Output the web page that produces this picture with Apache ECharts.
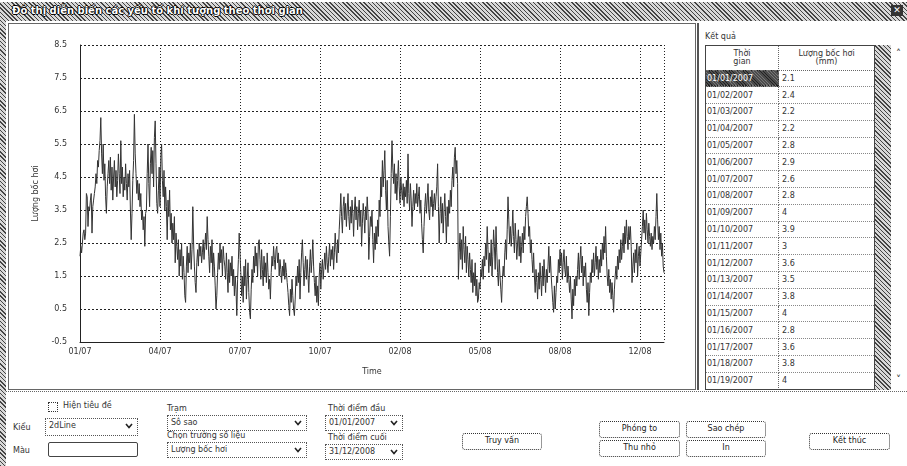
<!DOCTYPE html>
<html>
<head>
<meta charset="utf-8">
<script src="https://cdn.jsdelivr.net/npm/echarts@6/dist/echarts.min.js"></script>
<style>
  html, body { margin:0; padding:0; }
  body { width:907px; height:466px; overflow:hidden; background:#fff; position:relative;
         font-family:"DejaVu Sans", "Noto Sans", sans-serif; color:#333; }
  .abs { position:absolute; }
  .hatch { background: repeating-linear-gradient(45deg, #444 0 1px, #d8d8d8 1px 3px); }
  .lbl { position:absolute; font-size:8px; white-space:nowrap; color:#333; }
  .box { position:absolute; border:1px dotted #555; box-sizing:border-box; font-size:8px; padding:2px 3px; white-space:nowrap; }
  .btn { position:absolute; border:1px dotted #333; border-radius:3px; box-sizing:border-box; font-size:8px;
         text-align:center; line-height:14px; color:#222; }
  .chev { position:absolute; right:4px; top:4px; width:8px; height:6px; }
  #chart { position:absolute; left:0; top:0; width:907px; height:466px; z-index:2; }
  table { border-collapse:collapse; font-size:8px; }
</style>
</head>
<body>
<div class="abs hatch" style="left:0;top:2px;width:907px;height:19px;"></div>
<div class="abs" style="left:12px;top:5px;font-size:10px;font-weight:bold;color:#fff;text-shadow:1px 0 #000,-1px 0 #000,0 1px #000,0 -1px #000;white-space:nowrap;">Đồ thị diễn biến các yếu tố khí tượng theo thời gian</div>
<div class="abs" style="left:891px;top:5px;width:12px;height:11px;background:#333;color:#fff;font-size:9px;text-align:center;line-height:11px;">✕</div>
<div class="abs hatch" style="left:0;top:21px;width:6px;height:445px;"></div>
<div class="abs" style="left:8px;top:23px;width:688px;height:367px;border:1px solid #666;box-sizing:border-box;"></div>
<div class="abs" style="left:697px;top:23px;width:210px;height:367px;border-left:2px solid #555;box-sizing:border-box;"></div>
<div class="abs" style="left:6px;top:391px;width:901px;height:1px;border-top:1px dotted #666;"></div>

<div class="lbl" style="left:705px;top:32px;">Kết quả</div>
<div id="tbl" class="abs" style="left:705px;top:45px;width:170px;height:345px;border:1px solid #444;box-sizing:border-box;overflow:hidden;"></div>
<div class="abs hatch" style="left:875px;top:45px;width:16px;height:345px;"></div>
<div class="lbl" style="left:896px;top:48px;font-size:10px;">˄</div>
<div class="lbl" style="left:896px;top:374px;font-size:10px;">˅</div>

<div id="controls"></div>
<div id="chart"></div>

<script>
// ---- Daily evaporation (mm) ----
const evap_q1_2007 = [2.1,2.4,2.2,2.2,2.8,2.9,2.6,2.8,4,3.9,3,3.6,3.5,3.8,4,2.8,3.6,3.8,4,
  4.2,4.6,4.3,5.0,4.8,5.3,5.6,6.3,
  5.2,4.6,5.5,4.4,4.9,3.9,3.4,4.2,
  4.6,5.0,4.3,5.1,4.1,4.8,3.8,4.5,5.0,4.2,4.7,3.9,4.4,5.2,4.6,4.0,5.6,4.3,
  4.8,3.9,4.5,4.1,4.9,4.3,3.8,4.6,4.2,4.7,3.5,2.6,
  3.4,4.4,5.0,6.4,5.2,4.6,4.0,4.4,
  3.8,4.3,3.6,4.0,3.2,3.5,2.9,3.3,2.4,
  3.4,3.5,4.6,5.5,4.3,3.6,4.9,5.4];
const evap_q2_2007 = [4.6,5.3,4.2,5.7,6.2,4.9,3.7,3.4,
  4.1,4.8,3.6,5.1,5.5,4.4,3.9,4.7,
  3.5,4.2,3.6,2.6,3.8,3.3,4.1,2.9,
  3.4,2.5,3.1,2.6,3.3,1.9,2.8,2.4,
  2.0,2.6,1.5,2.3,1.8,2.5,1.4,2.1,1.6,0.9,0.7,1.8,
  2.4,1.6,2.2,1.9,2.5,1.7,2.3,3.6,
  2.5,1.8,1.3,1.0,1.9,
  2.3,1.8,2.5,2.1,2.4,1.9,2.2,2.6,2.0,2.4,2.8,2.3,
  3.3,2.6,2.1,1.6,2.4,1.9,2.6,1.5,2.2,1.8,1.2,
  0.5,0.9,1.6,2.2,1.7,2.5,1.9,2.3,1.5,2.4,2.0];
const evap_q3_2007 = [1.8,1.4,2.2,1.6,1.0,2.0,1.3,1.9,1.5,2.1,1.2,1.7,0.9,1.5,1.1,0.3,1.4,
  2.0,2.8,2.2,1.6,0.9,
  1.5,0.7,1.8,1.2,2.0,0.8,1.4,1.9,1.0,0.4,0.2,
  1.1,1.7,1.3,2.1,1.6,2.4,1.8,2.2,1.5,2.5,2.6,
  2.0,1.4,2.3,1.7,1.2,2.1,1.5,1.9,1.3,2.2,1.6,1.1,1.4,0.8,
  1.6,2.1,1.8,2.4,2.0,1.7,2.3,2.4,1.9,2.2,1.5,2.0,1.7,
  1.3,1.8,1.5,2.0,1.4,1.9,1.6,1.3,1.0,
  0.6,0.3,1.1,0.7,1.4,0.9,0.5,0.3,0.8,1.5,1.2,1.8];
const evap_q4_2007 = [1.3,2.0,0.8,1.6,2.2,2.6,1.9,1.2,1.7,2.1,1.4,
  2.0,1.5,1.0,1.8,2.3,1.6,2.0,2.6,1.8,1.3,0.9,1.5,0.7,
  1.2,0.6,1.5,1.9,1.1,1.7,2.0,1.4,1.8,
  2.2,1.7,2.4,1.9,1.6,2.1,2.5,1.8,2.3,2.0,2.4,1.7,2.2,2.8,2.3,1.9,2.6,2.2,
  2.9,3.4,4.0,3.3,2.8,3.6,3.9,
  3.2,3.7,3.0,3.5,4.0,3.3,2.9,3.6,3.1,3.8,3.4,2.7,3.5,3.9,3.2,3.6,2.9,3.4,3.8,3.0,
  3.5,2.4,3.1,3.7,3.3,2.8,3.6,3.2,3.9,3.4,2.0,2.7,3.3,3.0];
const evap_q1_2008 = [3.5,2.6,1.9,2.8,2.3,3.0,2.5,
  3.2,2.7,3.8,3.3,4.5,3.9,5.0,4.2,4.7,5.3,
  4.1,3.5,4.4,3.0,2.5,2.1,
  3.3,4.6,5.6,4.8,4.3,
  4.9,4.0,4.6,3.8,4.4,5.0,4.2,3.7,4.5,4.1,3.8,4.3,
  3.6,4.2,3.9,4.4,3.7,5.2,4.0,3.5,4.3,3.8,3.0,3.6,4.1,3.5,
  4.0,3.7,4.3,3.6,3.9,4.2,3.4,3.8,3.1,2.6,2.2,
  3.0,3.6,4.0,3.4,3.8,4.3,3.5,3.2,3.9,3.6,4.1,3.3,3.7,4.0,3.5,3.9,4.2,4.9,
  3.6,2.5,3.4,3.9,3.1,3.7,2.8,3.5];
const evap_q2_2008 = [4.0,3.3,2.5,3.6,3.0,3.8,3.4,
  4.1,3.6,4.4,4.8,4.2,5.1,5.4,4.6,5.0,4.3,
  1.4,2.2,2.8,2.0,2.6,1.7,3.0,2.3,1.9,2.7,1.6,2.4,2.0,1.5,2.2,
  1.7,1.3,2.0,1.0,1.6,1.2,1.9,0.9,1.4,0.7,0.8,1.3,1.1,1.7,1.5,2.0,
  1.4,2.1,1.8,2.5,2.0,3.0,2.3,1.6,2.2,1.8,2.6,1.5,2.1,2.9,2.4,1.7,3.0,2.2,
  1.6,1.2,2.0,1.5,1.1,0.7,1.4,
  1.8,1.5,2.2,2.6,2.0,2.9,3.9,3.2,2.5,3.0,2.4,2.8,3.5,2.7,2.2,3.1,2.6,2.0];
const evap_q3_2008 = [2.5,2.9,2.1,2.7,1.9,2.4,2.8,2.2,3.0,2.6,3.3,3.6,
  3.9,3.4,2.7,3.0,2.2,2.6,2.0,1.6,2.2,
  1.5,1.0,1.7,1.3,0.8,1.6,1.1,1.9,1.4,0.9,1.8,1.2,2.0,1.5,1.0,1.7,1.3,
  1.8,2.4,1.6,2.1,1.5,1.1,
  0.7,0.4,1.2,0.5,1.0,1.5,1.3,
  2.0,1.6,2.3,1.8,2.2,1.4,1.9,2.3,1.7,1.5,2.1,1.3,1.8,1.4,1.0,1.5,
  0.8,0.2,1.1,0.6,1.4,0.9,1.5,1.2,
  1.7,2.2,1.4,2.0,2.4,1.6,2.1,1.2,1.8,1.5,1.9,1.1,0.7,1.3,
  0.3,1.0,1.6];
const evap_q4_2008 = [1.3,2.0,1.6,2.2,1.5,1.9,2.4,1.7,2.1,1.4,2.0,1.6,2.3,1.8,2.5,2.0,2.7,2.2,3.0,
  2.1,1.5,1.2,1.7,1.0,1.4,0.8,1.3,0.9,0.4,1.1,1.5,
  1.8,1.4,2.1,1.7,2.3,1.9,2.6,2.0,2.4,2.8,2.2,3.0,2.5,3.2,2.7,2.3,3.0,
  2.6,3.0,2.4,1.3,1.8,2.2,
  1.6,2.3,1.9,2.5,1.5,2.1,2.4,1.8,2.2,2.6,
  3.0,3.5,2.8,3.2,2.6,3.4,2.9,2.5,3.1,2.7,
  2.4,2.8,2.3,2.7,2.5,3.0,2.6,3.3,4.0,
  3.2,2.6,3.0,2.3,2.8,2.1,2.5,1.8,1.6];

// ---- Axes / categories ----
const startDateUTC = Date.UTC(2007, 0, 1);
const xLabelDays = [0, 100, 200, 300, 400, 500, 600, 700];
const xGridDays = [0, 100, 200, 300, 400, 500, 600, 700, 730];
const yTickValues = [-0.5, 0.5, 1.5, 2.5, 3.5, 4.5, 5.5, 6.5, 7.5, 8.5];
const yAxisTitle = 'Lượng bốc hơi';
const xAxisTitle = 'Time';
const tableHeaders = ['Thời\ngian', 'Lượng bốc hơi\n(mm)'];
const tableRowCount = 19;

const evaporation = [].concat(evap_q1_2007, evap_q2_2007, evap_q3_2007, evap_q4_2007,
                              evap_q1_2008, evap_q2_2008, evap_q3_2008, evap_q4_2008);
function dayToDate(d) { return new Date(startDateUTC + d * 86400000); }
function pad(n) { return (n < 10 ? '0' : '') + n; }
function fmtMonthYear(d) { const dt = dayToDate(d); return pad(dt.getUTCMonth() + 1) + '/' + String(dt.getUTCFullYear()).slice(2); }
function fmtFull(d) { const dt = dayToDate(d); return pad(dt.getUTCMonth() + 1) + '/' + pad(dt.getUTCDate()) + '/' + dt.getUTCFullYear(); }

// ---- Result table ----
(function buildTable() {
  let html = '<table style="width:100%;">';
  html += '<tr style="height:24px;"><td style="width:70px;text-align:center;border-right:1px dotted #666;border-bottom:1px dotted #666;line-height:8px;">' +
          tableHeaders[0].replace('\n', '<br>') + '</td><td style="text-align:center;border-bottom:1px dotted #666;line-height:8px;">' +
          tableHeaders[1].replace('\n', '<br>') + '</td></tr>';
  for (let i = 0; i < tableRowCount; i++) {
    const sel = i === 0;
    html += '<tr style="height:16.8px;"><td style="padding-left:1px;border-right:1px dotted #666;border-bottom:1px dotted #888;' +
      (sel ? 'background:repeating-linear-gradient(45deg,#222 0 1px,#777 1px 2px);color:#fff;' : '') + '">' + fmtFull(i) +
      '</td><td style="padding-left:3px;border-bottom:1px dotted #888;">' + evaporation[i] + '</td></tr>';
  }
  html += '</table>';
  document.getElementById('tbl').innerHTML = html;
})();

// ---- Bottom controls ----
(function buildControls() {
  const chev = '<svg class="chev" viewBox="0 0 8 6"><polyline points="1,1 4,4.5 7,1" fill="none" stroke="#222" stroke-width="1.6"/></svg>';
  const c = document.getElementById('controls');
  c.innerHTML =
    '<div class="abs" style="left:48px;top:402px;width:8px;height:8px;border:1px dotted #333;"></div>' +
    '<div class="lbl" style="left:63px;top:401px;">Hiện tiêu đề</div>' +
    '<div class="lbl" style="left:13px;top:423px;">Kiểu</div>' +
    '<div class="box" style="left:45px;top:418px;width:93px;height:18px;">2dLine' + chev + '</div>' +
    '<div class="lbl" style="left:13px;top:446px;">Màu</div>' +
    '<div class="abs" style="left:48px;top:442px;width:90px;height:15px;border:1px solid #444;border-radius:2px;box-sizing:border-box;"></div>' +
    '<div class="lbl" style="left:167px;top:404px;">Trạm</div>' +
    '<div class="box" style="left:167px;top:415px;width:140px;height:16px;">Sô sao' + chev + '</div>' +
    '<div class="lbl" style="left:167px;top:431px;">Chọn trường số liệu</div>' +
    '<div class="box" style="left:167px;top:442px;width:140px;height:16px;">Lượng bốc hơi' + chev + '</div>' +
    '<div class="lbl" style="left:328px;top:404px;">Thời điểm đầu</div>' +
    '<div class="box" style="left:325px;top:415px;width:78px;height:16px;">01/01/2007' + chev + '</div>' +
    '<div class="lbl" style="left:328px;top:433px;">Thời điểm cuối</div>' +
    '<div class="box" style="left:325px;top:444px;width:78px;height:16px;">31/12/2008' + chev + '</div>' +
    '<div class="btn" style="left:462px;top:433px;width:80px;height:17px;">Truy vấn</div>' +
    '<div class="btn" style="left:599px;top:421px;width:81px;height:17px;">Phóng to</div>' +
    '<div class="btn" style="left:686px;top:421px;width:80px;height:17px;">Sao chép</div>' +
    '<div class="btn" style="left:599px;top:440px;width:81px;height:17px;">Thu nhỏ</div>' +
    '<div class="btn" style="left:686px;top:440px;width:80px;height:17px;">In</div>' +
    '<div class="btn" style="left:809px;top:433px;width:81px;height:17px;">Kết thúc</div>';
})();

// ---- Chart ----
const chart = echarts.init(document.getElementById('chart'), null, { renderer: 'canvas' });
chart.setOption({
  animation: false,
  backgroundColor: 'transparent',
  grid: { left: 80, right: 243, top: 45, bottom: 124, containLabel: false },
  xAxis: {
    type: 'value', min: 0, max: 730,
    name: xAxisTitle, nameLocation: 'middle', nameGap: 26,
    nameTextStyle: { fontSize: 8, color: '#333', fontFamily: 'DejaVu Sans' },
    axisLine: { show: true, onZero: false, lineStyle: { color: '#222', width: 1 } },
    axisTick: { show: false, customValues: xGridDays },
    axisLabel: { customValues: xLabelDays, fontSize: 8, color: '#333', margin: 6, fontFamily: 'DejaVu Sans',
                 formatter: v => fmtMonthYear(v) },
    splitLine: { show: true, lineStyle: { color: '#222', type: [1, 2], width: 1 } }
  },
  yAxis: {
    type: 'value', min: -0.5, max: 8.5,
    name: yAxisTitle, nameLocation: 'middle', nameGap: 40,
    nameTextStyle: { fontSize: 8, color: '#333', fontFamily: 'DejaVu Sans' },
    axisLine: { show: true, onZero: false, lineStyle: { color: '#222', width: 1 } },
    axisTick: { show: false, customValues: yTickValues },
    axisLabel: { customValues: yTickValues, fontSize: 8, color: '#333', margin: 13, fontFamily: 'DejaVu Sans',
                 formatter: v => v.toFixed(1) },
    splitLine: { show: true, lineStyle: { color: '#222', type: [2, 2], width: 1 } }
  },
  series: [{
    type: 'line',
    data: evaporation.map((v, i) => [i, v]),
    showSymbol: false,
    lineStyle: { color: '#333', width: 1 },
    silent: true
  }]
});
</script>
</body>
</html>
